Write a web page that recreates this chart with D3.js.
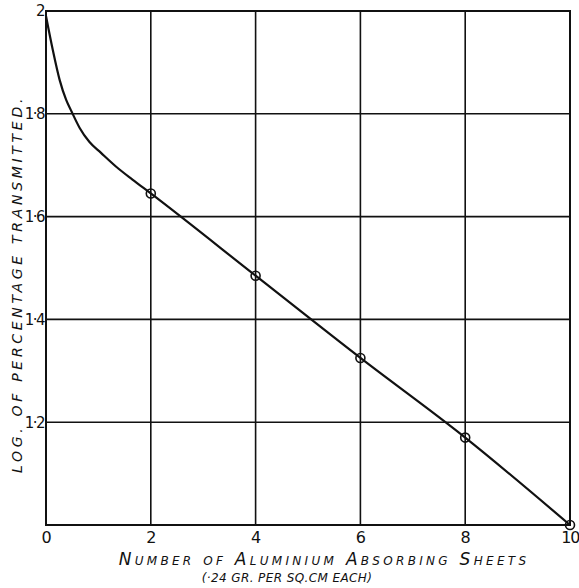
<!DOCTYPE html>
<html>
<head>
<meta charset="utf-8">
<script src="https://cdn.jsdelivr.net/npm/d3@7"></script>
<style>
  body { margin: 0; background: #fff; }
  svg { display: block; }
  .hand { font-family: "DejaVu Sans", sans-serif; font-style: italic; fill: #111; }
</style>
</head>
<body>
<div id="chart"></div>
<script>
// data read from the plate
const sheets = [0, 0.13, 0.26, 0.385, 0.49, 0.64, 0.83, 1.05, 1.34, 1.65, 2, 4, 6, 8, 10]
const log_transmitted = [1.99, 1.924, 1.866, 1.827, 1.804, 1.773, 1.745, 1.724, 1.697, 1.672, 1.645, 1.485, 1.325, 1.17, 1.0]
const marked_sheets = [2, 4, 6, 8, 10]
const marked_values = [1.645, 1.485, 1.325, 1.17, 1.0]
const x_ticks = [0, 2, 4, 6, 8, 10]
const y_grid = [1.0, 1.2, 1.4, 1.6, 1.8, 2.0]
const y_ticks = [1.2, 1.4, 1.6, 1.8, 2.0]
const y_tick_labels = ["1·2", "1·4", "1·6", "1·8", "2"]

const width = 579
const height = 588
const pad_left = 46, pad_right = 570, pad_top = 11, pad_bottom = 525

const svg = d3.select("#chart")
  .append("svg")
  .attr("width", width)
  .attr("height", height)

const x = d3.scaleLinear().domain([0, 10]).range([pad_left, pad_right])
const y = d3.scaleLinear().domain([1, 2]).range([pad_bottom, pad_top])

// Grid
const grid = svg.append("g").attr("stroke", "#111").attr("stroke-width", 1.6)
grid.selectAll("line.v")
  .data(x_ticks)
  .join("line")
    .attr("class", "v")
    .attr("x1", d => x(d)).attr("x2", d => x(d))
    .attr("y1", y(1)).attr("y2", y(2))
grid.selectAll("line.h")
  .data(y_grid)
  .join("line")
    .attr("class", "h")
    .attr("x1", x(0)).attr("x2", x(10))
    .attr("y1", d => y(d)).attr("y2", d => y(d))
// frame
svg.append("rect")
  .attr("x", x(0)).attr("y", y(2))
  .attr("width", x(10) - x(0)).attr("height", y(1) - y(2))
  .attr("fill", "none").attr("stroke", "#111").attr("stroke-width", 2)

// Axes (labels only)
const x_axis = svg.append("g")
  .attr("transform", `translate(0,${pad_bottom})`)
  .call(d3.axisBottom(x).tickValues(x_ticks).tickSize(0).tickPadding(7))
x_axis.select(".domain").remove()
x_axis.selectAll("text")
  .attr("class", "hand")
  .style("font-size", "16px")
  .style("font-style", "normal")
// keep the last label inside the page edge
x_axis.selectAll(".tick").filter(d => d === 10).select("text")
  .attr("text-anchor", "end")
  .attr("dx", 9)
  .style("letter-spacing", "-1px")

const y_axis = svg.append("g")
  .attr("transform", `translate(${pad_left},0)`)
  .call(d3.axisLeft(y).tickValues(y_ticks).tickSize(0).tickPadding(2)
    .tickFormat((d, i) => y_tick_labels[i]))
y_axis.select(".domain").remove()
y_axis.selectAll("text")
  .attr("class", "hand")
  .style("font-size", "15px")
  .style("font-style", "normal")
  .style("letter-spacing", "-1.5px")

// Curve
const line = d3.line()
  .x(d => x(d[0]))
  .y(d => y(d[1]))
  .curve(d3.curveMonotoneX)
svg.append("path")
  .datum(d3.zip(sheets, log_transmitted))
  .attr("d", line)
  .attr("fill", "none")
  .attr("stroke", "#111")
  .attr("stroke-width", 2.2)

// Observed points
svg.selectAll("circle.pt")
  .data(d3.zip(marked_sheets, marked_values))
  .join("circle")
    .attr("class", "pt")
    .attr("cx", d => x(d[0]))
    .attr("cy", d => y(d[1]))
    .attr("r", 4.5)
    .attr("fill", "none")
    .attr("stroke", "#111")
    .attr("stroke-width", 1.6)

// Axis titles
svg.append("text")
  .attr("class", "hand")
  .attr("x", 324).attr("y", 565)
  .attr("text-anchor", "middle")
  .style("font-size", "17px")
  .style("font-variant", "small-caps")
  .style("letter-spacing", "3.3px")
  .text("Number of Aluminium Absorbing Sheets")
svg.append("text")
  .attr("class", "hand")
  .attr("x", 287).attr("y", 582)
  .attr("text-anchor", "middle")
  .style("font-size", "12px")
  .style("letter-spacing", "0.4px")
  .text("(·24 GR. PER SQ.CM EACH)")

svg.append("text")
  .attr("class", "hand")
  .attr("transform", "translate(22,284) rotate(-90)")
  .attr("text-anchor", "middle")
  .style("font-size", "14px")
  .style("letter-spacing", "3.7px")
  .text("LOG. OF PERCENTAGE TRANSMITTED.")
</script>
</body>
</html>
